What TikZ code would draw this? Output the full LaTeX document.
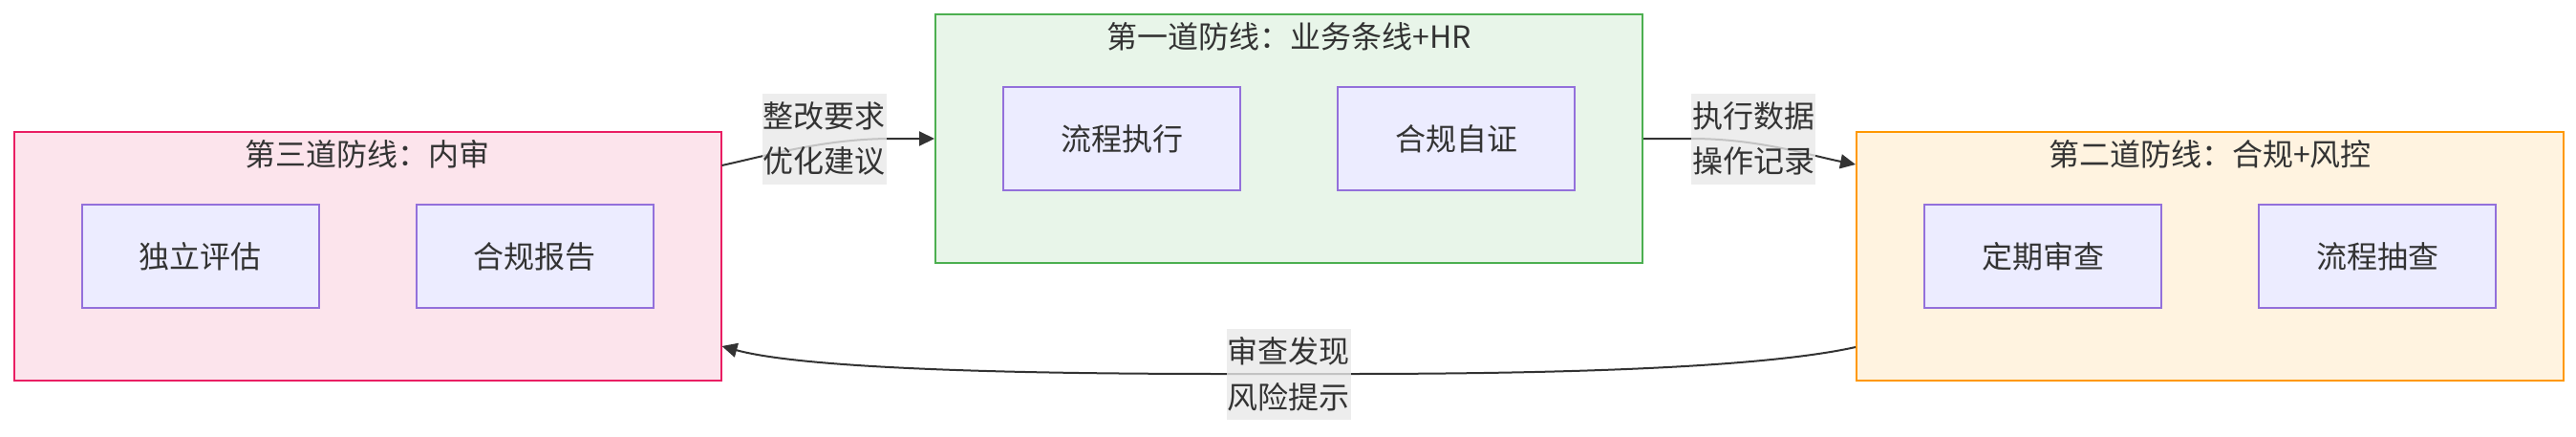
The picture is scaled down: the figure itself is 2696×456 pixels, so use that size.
\documentclass[tikz,border=0pt]{standalone}
\usepackage{fontspec}
\setmainfont{Noto Sans CJK SC}
\usepackage{xcolor}
\usetikzlibrary{arrows.meta, positioning, calc, fit, backgrounds}
\definecolor{ink}{HTML}{333333}
\definecolor{taskfill}{HTML}{ECECFF}
\definecolor{taskdraw}{HTML}{9370DB}
\definecolor{auditfill}{HTML}{FCE4EC}
\definecolor{auditdraw}{HTML}{E91E63}
\definecolor{bizfill}{HTML}{E8F5E9}
\definecolor{bizdraw}{HTML}{4CAF50}
\definecolor{riskfill}{HTML}{FFF3E0}
\definecolor{riskdraw}{HTML}{FF9800}
\definecolor{lblfill}{HTML}{E8E8E8}
\tikzset{
  >={Triangle[length=16pt, width=15pt]},
  task/.style    = {draw=taskdraw, fill=taskfill, line width=2pt,
                    minimum width=248pt, minimum height=108pt,
                    inner sep=0pt, text=ink},
  defense/.style = {draw, line width=2pt, inner xsep=70pt, inner ysep=75pt},
  title/.style   = {text=ink, inner sep=0pt},
  lbl/.style     = {fill=lblfill, fill opacity=0.8, text opacity=1, text=ink,
                    inner sep=0pt, minimum width=130pt, minimum height=95pt,
                    align=center},
  flow/.style    = {->, draw=ink, line width=2pt},
}

\begin{document}
\begin{tikzpicture}[
  x=1pt, y=-1pt,
  every node/.style = {font=\fontsize{32}{47.5}\selectfont}]

  \useasboundingbox (0,0) rectangle (2696,456);

  % =====================================================================
  % third line: internal audit
  % =====================================================================
  \node[task]                    (assess) at (209.5,268) {独立评估};
  \node[task, right=100pt of assess] (report) {合规报告};

  % =====================================================================
  % first line: business + HR
  % =====================================================================
  \node[task]                    (exec)   at (1174,145)  {流程执行};
  \node[task, right=100pt of exec]   (selfchk) {合规自证};

  % =====================================================================
  % second line: compliance + risk control
  % =====================================================================
  \node[task]                    (review) at (2138,268) {定期审查};
  \node[task, right=100pt of review] (sample) {流程抽查};

  % group frames behind the tasks
  \begin{scope}[on background layer]
    \node[defense, draw=auditdraw, fill=auditfill, fit=(assess)(report)] (audit) {};
    \node[defense, draw=bizdraw,   fill=bizfill,   fit=(exec)(selfchk)]  (biz)   {};
    \node[defense, draw=riskdraw,  fill=riskfill,  fit=(review)(sample)] (risk)  {};
  \end{scope}

  \node[title] (audit_t) at ([yshift=-24pt]audit.north) {第三道防线：内审};
  \node[title] (biz_t)   at ([yshift=-24pt]biz.north)   {第一道防线：业务条线+HR};
  \node[title] (risk_t)  at ([yshift=-24pt]risk.north)  {第二道防线：合规+风控};

  % =====================================================================
  % connectors
  % =====================================================================
  \draw[flow] ([yshift=95pt]audit.east)
    .. controls +(50,-11) and +(-70,0) .. ++(178,-28) -- (biz.west);
  \draw[flow] (biz.east) -- ++(50,0)
    .. controls +(70,0) and +(-50,-10) .. ([yshift=96pt]risk.west);
  \draw[flow] ([yshift=-95pt]risk.west)
    .. controls +(-90,20) and +(250,0) .. ++(-533,28) -- ++(-127,0)
    .. controls +(-250,0) and +(80,22) .. ([yshift=-94pt]audit.east);

  \node[lbl, left=50pt of biz.west]  (fix)  {整改要求\\优化建议};
  \node[lbl, right=50pt of biz.east] (data) {执行数据\\操作记录};
  \node[lbl] (finding) at ($(audit.east)!0.5!(risk.west)+(0,123)$) {审查发现\\风险提示};

\end{tikzpicture}
\end{document}
